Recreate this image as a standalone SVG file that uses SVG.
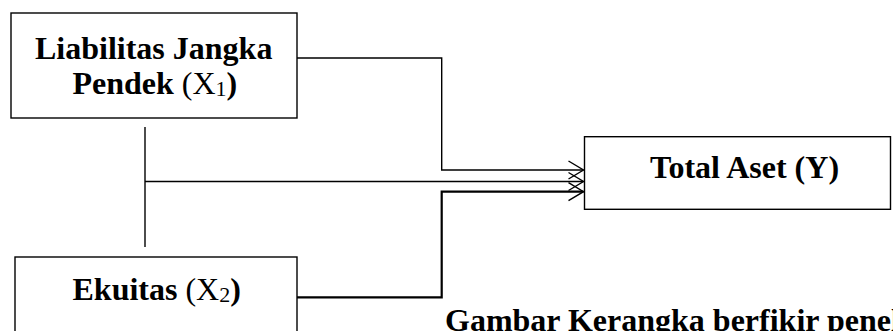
<svg xmlns="http://www.w3.org/2000/svg" width="893" height="331" viewBox="0 0 893 331">
<style>
.box{fill:#fff;stroke:#000;stroke-width:1.4}
.t{font-family:"Liberation Serif","Times New Roman",serif;font-size:32px;fill:#000}
.b{font-weight:bold}
.r{font-weight:normal}
.c{fill:none;stroke:#000;stroke-width:1.4}
.c2{fill:none;stroke:#000;stroke-width:2.2}
</style>
<defs>
<marker id="arr" markerUnits="userSpaceOnUse" markerWidth="20" markerHeight="22" viewBox="-17 -11 19 22" refX="0" refY="0" orient="auto">
<path d="M-15,-9 L0,0 L-15,9" fill="none" stroke="#000" stroke-width="1.4"/>
</marker>
</defs>
<rect width="893" height="331" fill="#fff"/>
<g id="connectors">
<line class="c" x1="145" y1="127" x2="145" y2="247"/>
<path class="c" d="M145,181.5 H583.5" marker-end="url(#arr)"/>
<path class="c" d="M297,58 H441.7 V170 H583.5" marker-end="url(#arr)"/>
<path class="c2" d="M297,297.3 H441.7 V191.7 H583.5" marker-end="url(#arr)"/>
</g>
<g id="node-x1">
<rect class="box" x="11" y="13" width="286" height="105"/>
<text class="t b" x="35" y="58.5">Liabilitas Jangka</text>
<text class="t b" x="72.5" y="93.5">Pendek <tspan class="r">(X</tspan><tspan class="r" font-size="22" dy="2">1</tspan><tspan dy="-2">)</tspan></text>
</g>
<g id="node-x2">
<rect class="box" x="15" y="257" width="282" height="90"/>
<text class="t b" x="72.5" y="299.5">Ekuitas <tspan class="r">(X</tspan><tspan class="r" font-size="22" dy="2">2</tspan><tspan dy="-2">)</tspan></text>
</g>
<g id="node-y">
<rect class="box" x="584.5" y="136.7" width="306" height="72.6"/>
<text class="t b" x="650" y="178.3">Total Aset (Y)</text>
</g>
<text class="t b" x="445" y="331" font-size="31">Gambar Kerangka berfikir penelitian</text>
</svg>
